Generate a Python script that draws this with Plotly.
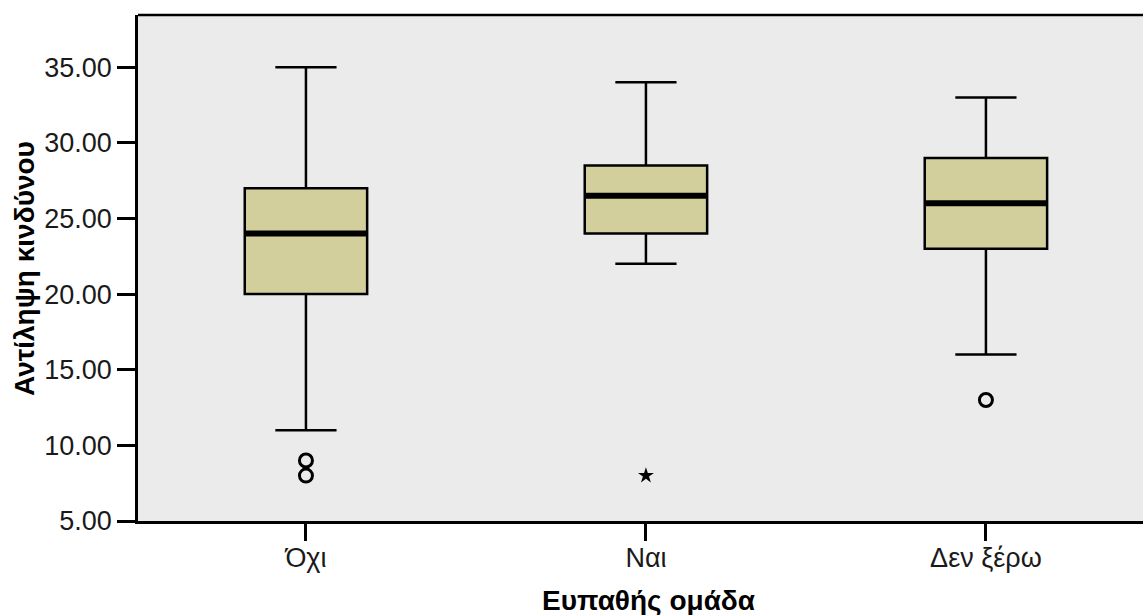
import plotly.graph_objects as go

# Group labels and five-number summaries of the risk-perception score
categories = ["Όχι", "Ναι", "Δεν ξέρω"]
lower_whisker = [11, 22, 16]
q1 = [20, 24, 23]
median = [24, 26.5, 26]
q3 = [27, 28.5, 29]
upper_whisker = [35, 34, 33]

# Points outside the whiskers (circles = outliers, star = extreme value)
outlier_x = [0, 0, 2]
outlier_y = [9, 8, 13]
extreme_x = [1]
extreme_y = [8]

y_ticks = [5, 10, 15, 20, 25, 30, 35]

positions = list(range(len(categories)))
box_width = 0.36

fig = go.Figure()

fig.add_trace(go.Box(
    x=positions,
    q1=q1, median=median, q3=q3,
    lowerfence=lower_whisker, upperfence=upper_whisker,
    width=box_width,
    whiskerwidth=0.5,
    fillcolor="#D3CF9C",
    line=dict(color="black", width=2.5),
    boxpoints=False,
    hoverinfo="skip",
    showlegend=False,
))

# Heavy median bars drawn over each box
for xi, m in zip(positions, median):
    fig.add_trace(go.Scatter(
        x=[xi - box_width / 2, xi + box_width / 2], y=[m, m],
        mode="lines", line=dict(color="black", width=6),
        hoverinfo="skip", showlegend=False,
    ))

fig.add_trace(go.Scatter(
    x=outlier_x, y=outlier_y, mode="markers",
    marker=dict(symbol="circle-open", size=13, color="black", line=dict(width=3)),
    hoverinfo="skip", showlegend=False,
))
fig.add_trace(go.Scatter(
    x=extreme_x, y=extreme_y, mode="markers",
    marker=dict(symbol="star", size=12, color="black"),
    hoverinfo="skip", showlegend=False,
))

tick_font = dict(family="Liberation Sans, Arial, sans-serif", size=27, color="#1a1a1a")
title_font = dict(family="Liberation Sans, Arial, sans-serif", size=28, color="black")

fig.update_layout(
    width=1143, height=615,
    margin=dict(l=138, r=0, t=15, b=94),
    paper_bgcolor="white",
    plot_bgcolor="#EBEBEB",
    xaxis=dict(
        range=[-0.494, 2.462],
        tickmode="array", tickvals=positions, ticktext=categories,
        showgrid=False, zeroline=False,
        showline=True, linecolor="black", linewidth=2.5,
        ticks="outside", ticklen=17, tickwidth=2.5, tickcolor="black",
        tickfont=tick_font, ticklabelstandoff=-6,
    ),
    yaxis=dict(
        range=[5, 38.45],
        tickmode="array", tickvals=y_ticks,
        tickformat=".2f",
        showgrid=False, zeroline=False,
        showline=True, linecolor="black", linewidth=2.5,
        ticks="outside", ticklen=18, tickwidth=2.5, tickcolor="black",
        tickfont=tick_font,
    ),
    shapes=[dict(type="line", xref="paper", yref="paper", x0=0, x1=1, y0=1, y1=1,
                 line=dict(color="black", width=2.5))],
    annotations=[
        dict(text="<b>Ευπαθής ομάδα</b>", xref="paper", yref="paper",
             x=(648 - 138) / 1005, y=-(600 - 521) / 506, xanchor="center", yanchor="middle",
             showarrow=False, font=title_font),
        dict(text="<b>Αντίληψη κινδύνου</b>", xref="paper", yref="paper",
             x=-(138 - 24) / 1005, y=(521 - 269) / 506, xanchor="center", yanchor="middle",
             textangle=-90, showarrow=False, font=title_font),
    ],
)

fig.write_html("out.html")
